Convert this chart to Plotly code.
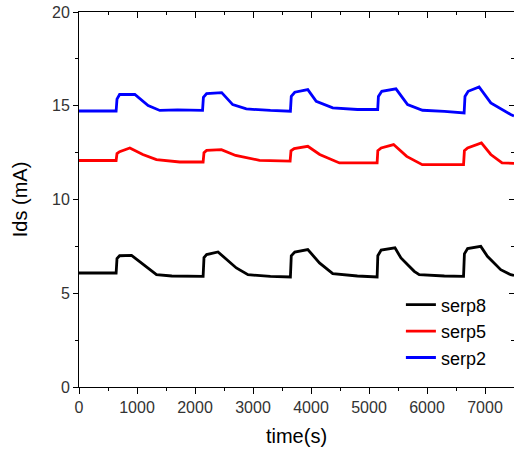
import plotly.graph_objects as go

# ---- data ----
t_serp8 = [0, 640, 655, 700, 906, 1135, 1336, 1600, 2140, 2155, 2200, 2397, 2713, 2913, 3300, 3645,
           3660, 3720, 3945, 4146, 4375, 4800, 5140, 5152, 5210, 5448, 5551, 5780, 5866, 6300, 6630,
           6645, 6700, 6927, 7041, 7271, 7443, 7500]
v_serp8 = [6.08, 6.08, 6.85, 7.0, 7.02, 6.49, 5.99, 5.92, 5.90, 6.9, 7.06, 7.2, 6.35, 5.99, 5.90, 5.87,
           7.0, 7.2, 7.33, 6.62, 6.05, 5.92, 5.87, 7.0, 7.3, 7.42, 6.88, 6.17, 5.99, 5.92, 5.90,
           7.1, 7.38, 7.50, 6.97, 6.26, 5.99, 5.95]

t_serp5 = [0, 640, 655, 700, 877, 1100, 1335, 1737, 2140, 2155, 2200, 2455, 2700, 3113, 3640,
           3655, 3710, 3945, 4150, 4490, 5140, 5152, 5210, 5424, 5650, 5918, 6630, 6645, 6700,
           6938, 7100, 7294, 7500]
v_serp5 = [12.08, 12.08, 12.45, 12.55, 12.75, 12.4, 12.13, 12.0, 12.0, 12.5, 12.62, 12.66, 12.35, 12.09, 12.05,
           12.6, 12.72, 12.84, 12.4, 11.95, 11.95, 12.6, 12.75, 12.93, 12.3, 11.86, 11.86, 12.6, 12.75,
           13.02, 12.4, 11.95, 11.93]

t_serp2 = [0, 640, 655, 700, 963, 1192, 1393, 1700, 2130, 2145, 2200, 2460, 2650, 2885, 3300, 3645,
           3660, 3720, 3945, 4090, 4375, 4800, 5150, 5162, 5220, 5465, 5665, 5923, 6300, 6640,
           6655, 6710, 6898, 7100, 7443, 7500]
v_serp2 = [14.72, 14.72, 15.35, 15.6, 15.6, 15.01, 14.75, 14.78, 14.75, 15.45, 15.65, 15.7, 15.06, 14.83, 14.75, 14.71,
           15.5, 15.72, 15.86, 15.24, 14.89, 14.80, 14.80, 15.5, 15.77, 15.9, 15.06, 14.76, 14.70, 14.62,
           15.5, 15.77, 16.0, 15.15, 14.53, 14.45]

series_names = ["serp8", "serp5", "serp2"]
series_colors = ["#000000", "#ff0000", "#0000ff"]

x_range = [0, 7500]
y_range = [0, 20]

FONT = "Arial, 'Liberation Sans', sans-serif"

fig = go.Figure()
for name, color, t, v in zip(series_names, series_colors,
                             [t_serp8, t_serp5, t_serp2], [v_serp8, v_serp5, v_serp2]):
    fig.add_trace(go.Scatter(x=t, y=v, mode="lines", name=name,
                             line=dict(color=color, width=2.8)))

# empty helper traces so the mirrored (top / right) axes are drawn
fig.add_trace(go.Scatter(x=[], y=[], xaxis="x2", yaxis="y", showlegend=False, hoverinfo="skip"))
fig.add_trace(go.Scatter(x=[], y=[], xaxis="x", yaxis="y2", showlegend=False, hoverinfo="skip"))

axis_common = dict(showgrid=False, zeroline=False, showline=True, linecolor="black", linewidth=1,
                   tickcolor="black", tickwidth=1, automargin=False)

fig.update_layout(
    width=514, height=450,
    margin=dict(l=79, r=0, t=12, b=63),
    plot_bgcolor="white", paper_bgcolor="white",
    font=dict(family=FONT, color="black"),
    xaxis=dict(range=x_range, tick0=0, dtick=1000, ticks="outside", ticklen=6,
               minor=dict(dtick=500, ticks="outside", ticklen=3, tickcolor="black"),
               tickfont=dict(size=16, color="#333333"), ticklabeloverflow="allow",
               title=dict(text="time(s)", font=dict(size=20, color="black"), standoff=13),
               **axis_common),
    xaxis2=dict(range=x_range, overlaying="x", side="top", anchor="y", tick0=0, dtick=1000,
                ticks="inside", ticklen=6, showticklabels=False,
                minor=dict(dtick=500, ticks="inside", ticklen=3, tickcolor="black"),
                **axis_common),
    yaxis=dict(range=y_range, tick0=0, dtick=5, ticks="outside", ticklen=5,
               minor=dict(dtick=2.5, ticks="outside", ticklen=3, tickcolor="black"),
               tickfont=dict(size=16, color="#333333"), ticklabeloverflow="allow",
               title=dict(text="Ids (mA)", font=dict(size=20, color="black"), standoff=19),
               **axis_common),
    yaxis2=dict(range=y_range, overlaying="y", side="right", anchor="x", tick0=0, dtick=5,
                ticks="inside", ticklen=5, showticklabels=False,
                minor=dict(dtick=2.5, ticks="inside", ticklen=3, tickcolor="black"),
                **axis_common),
    legend=dict(x=0.74, y=0.268, xanchor="left", yanchor="top", bgcolor="rgba(0,0,0,0)",
                font=dict(size=18, color="black"), borderwidth=0),
)

# remove the default 8px page margin so the figure sits at the window origin
fig.write_html("out.html", config={"displayModeBar": False},
               post_script="document.body.style.margin='0';")
